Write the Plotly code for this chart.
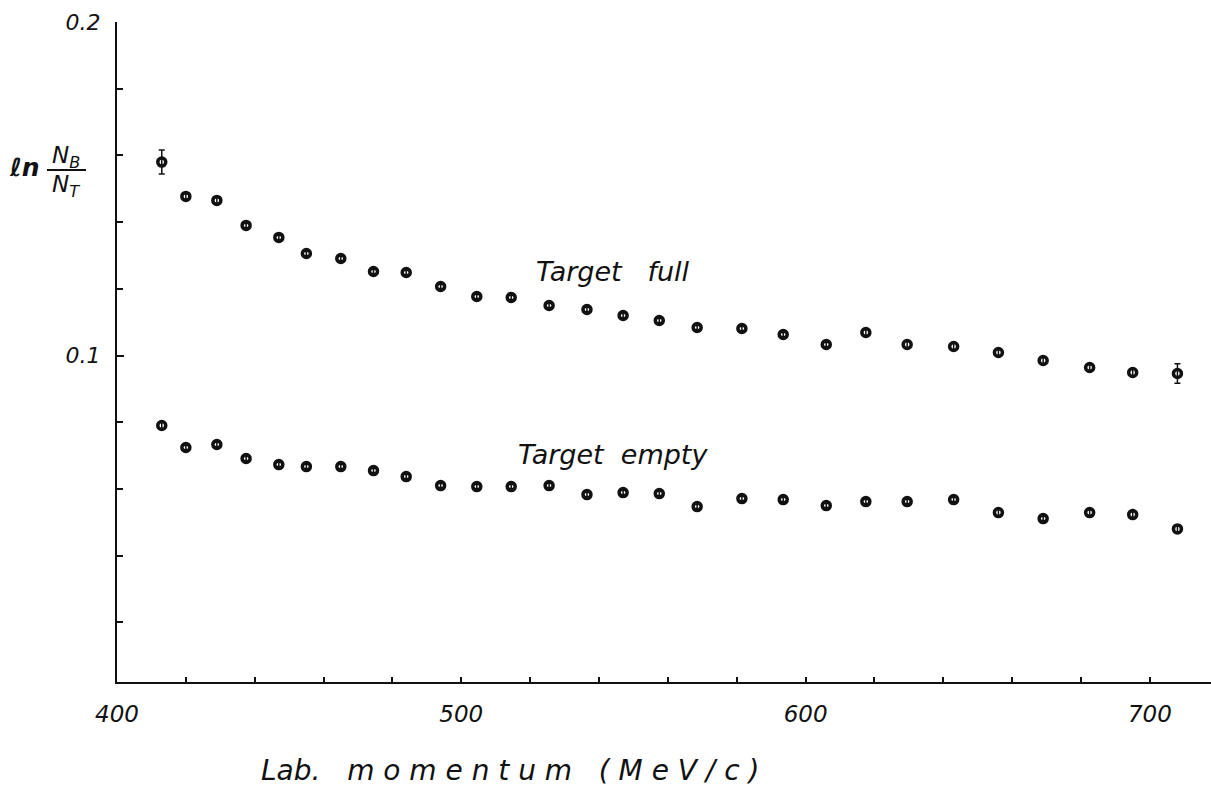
import plotly.graph_objects as go

# Laboratory momentum bins (MeV/c)
momentum = [413, 420, 429, 437.5, 447, 455, 465, 474.5, 484, 494, 504.5, 514.5,
            525.5, 536.5, 547, 557.5, 568.5, 581.5, 593.5, 606, 617.5, 629.5,
            643, 656, 669, 682.5, 695, 708]

# ln(N_B/N_T) with the target full
full_vals = [0.1580, 0.1477, 0.1465, 0.1390, 0.1354, 0.1306, 0.1291, 0.1252,
             0.1249, 0.1207, 0.1177, 0.1174, 0.1150, 0.1138, 0.1120, 0.1105,
             0.1084, 0.1081, 0.1063, 0.1033, 0.1069, 0.1033, 0.1027, 0.1009,
             0.0985, 0.0964, 0.0949, 0.0946]
full_err = [0.0036, 0.0008, 0.0008, 0.0006, 0.0006, 0.0006, 0.0006, 0.0006,
            0.0006, 0.0006, 0.0006, 0.0006, 0.0006, 0.0006, 0.0006, 0.0006,
            0.0006, 0.0006, 0.0006, 0.0006, 0.0008, 0.0009, 0.0009, 0.0008,
            0.0009, 0.0008, 0.0010, 0.0029]

# ln(N_B/N_T) with the target empty
empty_vals = [0.0790, 0.0724, 0.0733, 0.0691, 0.0673, 0.0667, 0.0667, 0.0655,
              0.0637, 0.0610, 0.0607, 0.0607, 0.0610, 0.0583, 0.0589, 0.0586,
              0.0547, 0.0571, 0.0568, 0.0550, 0.0562, 0.0562, 0.0568, 0.0529,
              0.0511, 0.0529, 0.0523, 0.0480]
empty_err = [0.0009, 0.0006, 0.0006, 0.0006, 0.0006, 0.0006, 0.0006, 0.0006,
             0.0006, 0.0006, 0.0006, 0.0006, 0.0006, 0.0006, 0.0006, 0.0006,
             0.0006, 0.0006, 0.0006, 0.0006, 0.0006, 0.0006, 0.0006, 0.0009,
             0.0006, 0.0008, 0.0008, 0.0010]

# Labelled ticks; unlabelled ones come from the minor tick spacing
x_ticks = [400, 500, 600, 700]
x_minor_step = 20
y_ticks = [0.1, 0.2]
y_minor_step = 0.02

FONT = "DejaVu Sans"
INK = "#111111"

fig = go.Figure()
for vals, errs in ((full_vals, full_err), (empty_vals, empty_err)):
    fig.add_trace(go.Scatter(
        x=momentum, y=vals, mode="markers",
        marker=dict(symbol="circle-open", size=8, color=INK,
                    line=dict(width=3.5, color=INK)),
        error_y=dict(type="data", array=errs, visible=True,
                     color=INK, thickness=1.5, width=3),
        showlegend=False,
    ))

L, R, T, B = 117, 0, 22, 113
W, H = 1211, 795
pw, ph = W - L - R, H - T - B


def px(x):
    return (x - L) / pw


def py(y):
    return (H - B - y) / ph


def label(x, y, text, size, ref="paper"):
    yref = "y" if ref == "x" else ref
    return dict(x=x, y=y, xref=ref, yref=yref, text=text,
                xanchor="center", yanchor="middle", showarrow=False,
                font=dict(size=size, family=FONT, style="italic", color=INK))


annots = [
    label(544, 0.1252, "Target&nbsp;&nbsp;&nbsp;full", 27, ref="x"),
    label(544, 0.0703, "Target&nbsp;&nbsp;empty", 27, ref="x"),
    label(px(24), py(167), "<b>ℓn</b>", 25),
    label(px(66), py(157), "N<sub>B</sub>", 23),
    label(px(66), py(186), "N<sub>T</sub>", 23),
    label(px(510), py(770),
          "Lab.&nbsp;&nbsp; m o m e n t u m &nbsp;&nbsp;( M e V / c )", 28),
]

fig.update_layout(
    width=W, height=H,
    margin=dict(l=L, r=R, t=T, b=B, pad=0),
    paper_bgcolor="white", plot_bgcolor="white",
    annotations=annots,
    shapes=[dict(type="line", xref="paper", yref="paper",
                 x0=px(47), x1=px(86), y0=py(170), y1=py(170),
                 line=dict(color=INK, width=2))],
)
fig.update_xaxes(
    range=[400, 400 + pw / 3.443], showgrid=False, zeroline=False,
    showline=True, linecolor=INK, linewidth=2,
    tickmode="array", tickvals=x_ticks,
    ticks="inside", ticklen=5, tickwidth=2, tickcolor=INK,
    minor=dict(ticks="inside", ticklen=5, tickwidth=2, tickcolor=INK,
               tick0=400, dtick=x_minor_step, showgrid=False),
    tickfont=dict(size=23, family=FONT, style="italic", color=INK),
    ticklabelstandoff=10,
)
fig.update_yaxes(
    range=[0.0021, 0.2], showgrid=False, zeroline=False,
    showline=True, linecolor=INK, linewidth=2,
    tickmode="array", tickvals=y_ticks,
    ticks="inside", ticklen=7, tickwidth=2, tickcolor=INK,
    minor=dict(ticks="inside", ticklen=6, tickwidth=2, tickcolor=INK,
               tick0=0, dtick=y_minor_step, showgrid=False),
    tickfont=dict(size=22, family=FONT, style="italic", color=INK),
    ticklabelstandoff=10,
)

fig.write_html("out.html")
